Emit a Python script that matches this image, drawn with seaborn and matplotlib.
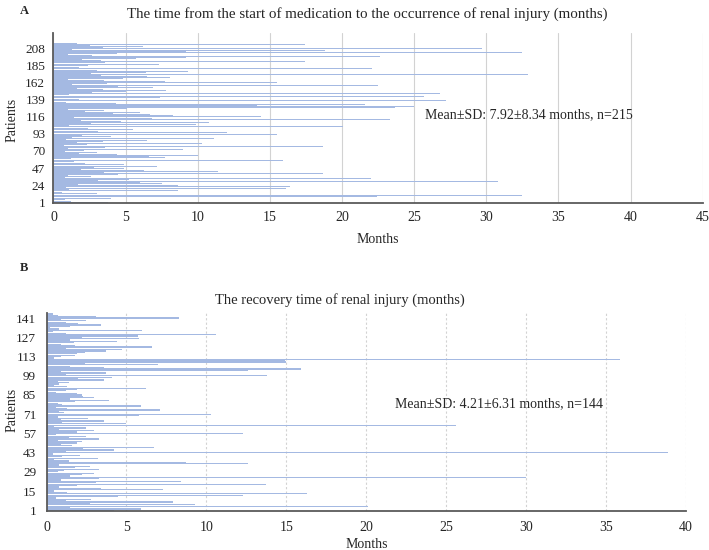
import numpy as np
import pandas as pd
import matplotlib
matplotlib.use("Agg")
import matplotlib.pyplot as plt
import seaborn as sns

# months from start of medication to renal injury, patient 1 -> 215
onset_months = [
    3.8, 1.2, 2.5, 17.0, 0.8, 4.0, 13.4, 2.1, 22.4, 32.5,
    1.5, 40.5, 3.0, 0.6, 9.6, 2.4, 8.6, 1.1, 4.2, 16.1,
    0.9, 16.4, 2.8, 8.6, 1.7, 7.5, 6.5, 6.0, 30.8, 3.1,
    1.3, 5.2, 22.0, 0.8, 10.3, 2.6, 1.0, 4.5, 2.0, 18.7,
    3.5, 11.4, 8.7, 6.3, 1.9, 4.9, 4.4, 2.8, 7.2, 1.5,
    3.9, 4.9, 2.2, 7.0, 25.7, 1.4, 15.9, 3.3, 29.8, 1.2,
    7.7, 2.5, 6.6, 10.0, 4.4, 12.2, 1.8, 3.0, 0.8, 5.6,
    2.1, 9.0, 1.0, 17.2, 3.6, 18.7, 0.7, 4.8, 2.3, 10.3,
    1.6, 21.5, 3.4, 6.5, 0.9, 2.7, 11.1, 1.3, 4.0, 22.5,
    2.0, 15.5, 14.4, 8.5, 12.0, 3.1, 11.3, 1.7, 5.5, 2.4,
    0.8, 7.9, 20.1, 1.1, 3.8, 9.9, 2.6, 10.8, 6.6, 4.7,
    1.9, 23.3, 3.2, 6.8, 1.4, 14.4, 2.9, 8.3, 6.7, 4.1,
    1.2, 6.0, 2.2, 3.5, 23.6, 1.0, 5.1, 23.7, 2.8, 25.0,
    14.1, 21.6, 1.5, 4.3, 0.9, 22.1, 3.0, 27.2, 1.8, 4.6,
    8.6, 7.4, 25.7, 2.3, 3.9, 1.1, 26.8, 5.8, 2.7, 5.0,
    7.8, 10.5, 3.4, 1.6, 6.9, 2.0, 4.5, 22.5, 1.3, 20.1,
    3.7, 15.5, 7.7, 2.2, 3.5, 1.0, 4.8, 2.9, 8.1, 6.5,
    3.3, 1.4, 32.9, 2.6, 6.4, 1.1, 9.3, 3.0, 0.9, 4.2,
    22.1, 1.8, 5.3, 14.6, 2.4, 7.3, 1.2, 22.3, 3.6, 17.4,
    8.8, 3.3, 2.0, 5.7, 1.5, 9.2, 22.6, 2.7, 11.5, 1.0,
    4.4, 32.5, 2.1, 9.2, 18.8, 1.3, 11.7, 29.7, 3.4, 6.2,
    0.9, 2.5, 17.4, 1.6, 1.3,
]

# recovery time of renal injury, patient 1 -> 144
recovery_months = [
    4.2, 5.9, 1.5, 20.1, 9.3, 2.7, 7.9, 1.2, 2.8, 0.6,
    4.5, 12.3, 16.3, 1.3, 0.5, 7.3, 3.4, 0.8, 1.9, 13.7,
    3.1, 8.4, 0.9, 3.3, 30.0, 1.5, 2.2, 3.0, 0.7, 1.1,
    3.3, 1.8, 2.7, 0.8, 12.6, 8.7, 1.4, 0.5, 3.2, 1.0,
    2.1, 0.4, 38.9, 1.2, 4.2, 2.3, 6.7, 1.6, 0.9, 1.9,
    2.2, 0.7, 3.3, 1.4, 2.5, 0.6, 12.3, 1.9, 3.0, 0.8,
    2.5, 0.5, 25.6, 5.0, 1.0, 3.6, 0.9, 2.6, 0.7, 5.8,
    10.3, 1.1, 0.8, 7.1, 1.3, 0.6, 5.9, 1.0, 0.7, 1.8,
    3.9, 1.5, 3.0, 2.3, 2.2, 1.9, 0.6, 1.2, 1.9, 6.2,
    1.3, 0.5, 0.8, 1.4, 0.7, 3.6, 2.0, 4.1, 13.8, 1.2,
    3.7, 0.9, 12.6, 15.9, 3.6, 1.5, 7.0, 2.4, 15.0, 14.9,
    35.9, 0.5, 0.9, 1.8, 1.9, 2.4, 3.7, 4.7, 1.2, 6.6,
    1.8, 0.9, 1.7, 4.4, 1.5, 5.8, 2.2, 5.7, 10.6, 1.2,
    0.4, 6.0, 0.8, 0.2, 1.5, 3.4, 2.0, 1.2, 2.5, 0.9,
    8.3, 3.1, 0.7, 0.4,
]

onset_ticks = [1, 24, 47, 70, 93, 116, 139, 162, 185, 208]
recovery_ticks = [1, 15, 29, 43, 57, 71, 85, 99, 113, 127, 141]

title_a = "The time from the start of medication to the occurrence of renal injury (months)"
title_b = "The recovery time of renal injury (months)"
note_a = "Mean±SD: 7.92±8.34 months, n=215"
note_b = "Mean±SD: 4.21±6.31 months, n=144"

bar_color = "#a4b9e2"
W, H = 709, 550

sns.set_theme(style="white")
plt.rcParams['font.family'] = ['Liberation Serif', 'DejaVu Serif']

fig = plt.figure(figsize=(W / 100, H / 100), dpi=100)


def px_box(left, top, right, bottom):
    return [left / W, 1 - bottom / H, (right - left) / W, (bottom - top) / H]


def draw_panel(ax, values, ticks, xmax, ytop, grid_ls, ypad, xpad):
    df = pd.DataFrame({"patient": np.arange(1, len(values) + 1), "months": values})
    sns.barplot(data=df, x="months", y="patient", orient="h",
                order=list(df["patient"]), color=bar_color, saturation=1,
                width=0.9, linewidth=0, edgecolor="none", errorbar=None, ax=ax)
    ax.set_xlim(0, xmax)
    ax.set_xticks(range(0, xmax + 1, 5))
    ax.set_ylim(-0.5, ytop)
    ax.set_yticks([t - 1 for t in ticks], labels=[str(t) for t in ticks])
    ax.grid(axis="x", color="#d2d2d2", linestyle=grid_ls, linewidth=0.8)
    ax.set_axisbelow(True)
    for s in ["top", "right"]:
        ax.spines[s].set_visible(False)
    for s in ["left", "bottom"]:
        ax.spines[s].set_color("#5a5a5a")
        ax.spines[s].set_linewidth(1.3)
    ax.tick_params(axis="y", length=0, pad=ypad, labelsize=9.5)
    ax.tick_params(axis="x", length=0, pad=xpad, labelsize=10)
    ax.set_xlabel("")
    ax.set_ylabel("")


ax_a = fig.add_axes(px_box(53.5, 33, 702.7, 202.7))
draw_panel(ax_a, onset_months, onset_ticks, 45, 227.5, "-", 6, 6)

ax_b = fig.add_axes(px_box(46.5, 313.3, 686, 511))
draw_panel(ax_b, recovery_months, recovery_ticks, 40, 143.5, (0, (2, 2)), 7.5, 7)

# titles, panel letters and labels
fig.text(367 / W, 1 - 14 / H, title_a, ha="center", va="center", fontsize=10.8)
fig.text(340 / W, 1 - 300 / H, title_b, ha="center", va="center", fontsize=10.5)
fig.text(24 / W, 1 - 11 / H, "A", ha="center", va="center", fontsize=9, fontweight="bold")
fig.text(24 / W, 1 - 268 / H, "B", ha="center", va="center", fontsize=9, fontweight="bold")

fig.text(378 / W, 1 - 240 / H, "Months", ha="center", va="center", fontsize=10)
fig.text(367 / W, 1 - 545 / H, "Months", ha="center", va="center", fontsize=10)
fig.text(12 / W, 1 - 120 / H, "Patients", ha="center", va="center", rotation=90, fontsize=10)
fig.text(12 / W, 1 - 410 / H, "Patients", ha="center", va="center", rotation=90, fontsize=10)

fig.text(425 / W, 1 - 115 / H, note_a, ha="left", va="center", fontsize=10)
fig.text(395 / W, 1 - 404 / H, note_b, ha="left", va="center", fontsize=10)

fig.savefig("out.png", dpi=100)
